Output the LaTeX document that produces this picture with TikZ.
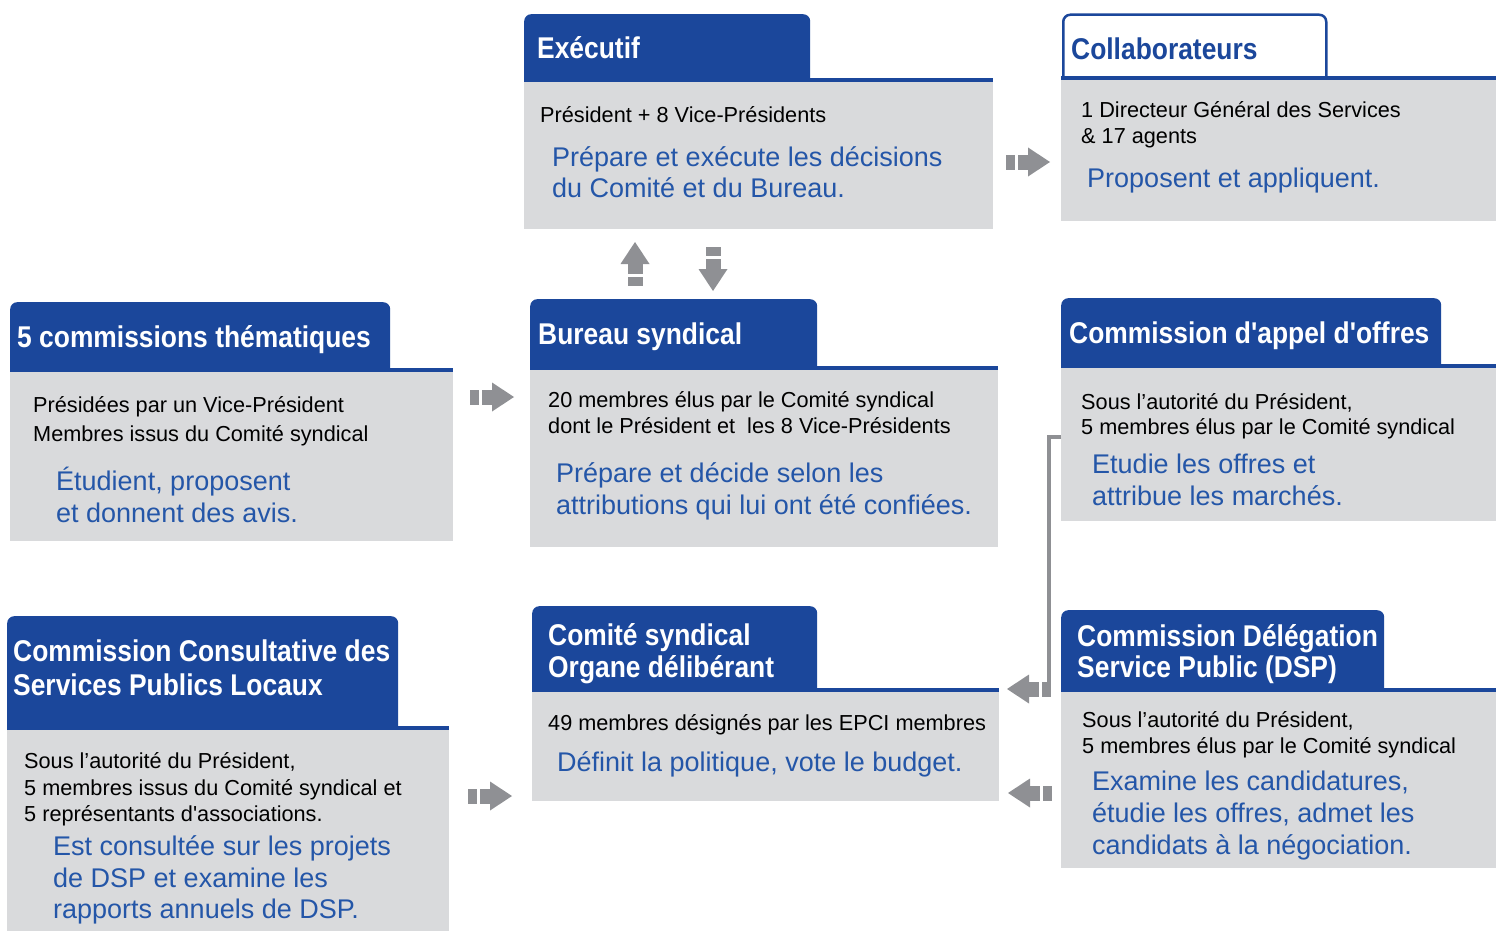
\documentclass[tikz,border=0pt]{standalone}
\usepackage{fontspec}
\setmainfont{Liberation Sans}[Ligatures=TeXOff]
\newfontfamily\hdrfont[FakeStretch=0.88,Ligatures=TeXOff]{Liberation Sans}
\definecolor{hdrblue}{HTML}{1B479B}
\definecolor{txtblue}{HTML}{2456A8}
\definecolor{bodygrey}{HTML}{D9DADC}
\definecolor{arrgrey}{HTML}{8F9094}
\tikzset{
  tabbox/.style={fill=hdrblue, draw=none, rounded corners=7pt, anchor=north west, inner sep=0pt},
  tabopen/.style={fill=white, draw=hdrblue, line width=2.5pt, rounded corners=7pt, anchor=north west, inner sep=0pt},
  bodybox/.style={fill=bodygrey, draw=none, anchor=north west, inner sep=0pt},
  hdr/.style={anchor=base west, inner sep=0pt, text=white, font=\hdrfont\bfseries\fontsize{30}{34}\selectfont},
  hdrb/.style={hdr, text=hdrblue},
  btxt/.style={anchor=base west, inner sep=0pt, text=black, font=\fontsize{21.7}{25}\selectfont},
  ltxt/.style={anchor=base west, inner sep=0pt, text=txtblue, font=\fontsize{27}{32}\selectfont},
  connline/.style={draw=arrgrey, line width=4pt},
  garrow/.pic={
    \fill[arrgrey] (0,-7.5) rectangle (9,7.5);
    \fill[arrgrey] (12,-7.5) rectangle (23,7.5);
    \fill[arrgrey] (22,-14.5) -- (44,0) -- (22,14.5) -- cycle;
  }
}
\begin{document}
\begin{tikzpicture}[x=1pt,y=-1pt]
\useasboundingbox (0,0) rectangle (1496,931);

% ---------- Executif ----------
\node[tabbox, minimum width=286pt, minimum height=80pt] (exectab) at (524,14) {};
\fill[hdrblue] (524,78) rectangle (993,82);
\node[bodybox, minimum width=469pt, minimum height=147pt] (exec) at (524,82) {};
\node[hdr] (exech) at (537,59) {Exécutif};
\node[btxt] (exect1) at (540,123) {Président + 8 Vice-Présidents};
\node[ltxt] (exect2) at (552,166) {Prépare et exécute les décisions};
\node[ltxt] (exect3) at (552,197) {du Comité et du Bureau.};

% ---------- Collaborateurs ----------
\node[tabopen, minimum width=263pt, minimum height=80pt] (coltab) at (1062,13.5) {};
\fill[hdrblue] (1061,76) rectangle (1496,80);
\node[bodybox, minimum width=435pt, minimum height=141pt] (col) at (1061,80) {};
\node[hdrb] (colh) at (1071,60) {Collaborateurs};
\node[btxt] (colt1) at (1081,118) {1 Directeur Général des Services};
\node[btxt] (colt2) at (1081,143) {\& 17 agents};
\node[ltxt] (colt3) at (1087,187) {Proposent et appliquent.};

% ---------- 5 commissions ----------
\node[tabbox, minimum width=380pt, minimum height=80pt] (comtab) at (10,302) {};
\fill[hdrblue] (10,368) rectangle (453,372);
\node[bodybox, minimum width=443pt, minimum height=169pt] (com) at (10,372) {};
\node[hdr] (comh) at (17,347) {5 commissions thématiques};
\node[btxt] (comt1) at (33,412) {Présidées par un Vice-Président};
\node[btxt] (comt2) at (33,441) {Membres issus du Comité syndical};
\node[ltxt] (comt3) at (56,490) {Étudient, proposent};
\node[ltxt] (comt4) at (56,522) {et donnent des avis.};

% ---------- Bureau syndical ----------
\node[tabbox, minimum width=287pt, minimum height=80pt] (burtab) at (530,299) {};
\fill[hdrblue] (530,366) rectangle (998,370);
\node[bodybox, minimum width=468pt, minimum height=177pt] (bur) at (530,370) {};
\node[hdr] (burh) at (538,344) {Bureau syndical};
\node[btxt] (burt1) at (548,407) {20 membres élus par le Comité syndical};
\node[btxt] (burt2) at (548,433) {dont le Président et\ \ les 8 Vice-Présidents};
\node[ltxt] (burt3) at (556,482) {Prépare et décide selon les};
\node[ltxt] (burt4) at (556,514) {attributions qui lui ont été confiées.};

% ---------- Commission d'appel d'offres ----------
\node[tabbox, minimum width=380pt, minimum height=80pt] (aotab) at (1061,298) {};
\fill[hdrblue] (1061,364) rectangle (1496,368);
\node[bodybox, minimum width=435pt, minimum height=153pt] (ao) at (1061,368) {};
\node[hdr] (aoh) at (1069,343) {Commission d'appel d'offres};
\node[btxt] (aot1) at (1081,409) {Sous l’autorité du Président,};
\node[btxt] (aot2) at (1081,434) {5 membres élus par le Comité syndical};
\node[ltxt] (aot3) at (1092,473) {Etudie les offres et};
\node[ltxt] (aot4) at (1092,505) {attribue les marchés.};

% ---------- CCSPL ----------
\node[tabbox, minimum width=391pt, minimum height=120pt] (ccstab) at (7,616) {};
\fill[hdrblue] (7,726) rectangle (449,730);
\node[bodybox, minimum width=442pt, minimum height=201pt] (ccs) at (7,730) {};
\node[hdr] (ccsh1) at (13,661) {Commission Consultative des};
\node[hdr] (ccsh2) at (13,695) {Services Publics Locaux};
\node[btxt] (ccst1) at (24,768) {Sous l’autorité du Président,};
\node[btxt] (ccst2) at (24,795) {5 membres issus du Comité syndical et};
\node[btxt] (ccst3) at (24,821) {5 représentants d'associations.};
\node[ltxt] (ccst4) at (53,855) {Est consultée sur les projets};
\node[ltxt] (ccst5) at (53,887) {de DSP et examine les};
\node[ltxt] (ccst6) at (53,918) {rapports annuels de DSP.};

% ---------- Comite syndical ----------
\node[tabbox, minimum width=285pt, minimum height=95pt] (cstab) at (532,606) {};
\fill[hdrblue] (532,688) rectangle (999,692);
\node[bodybox, minimum width=467pt, minimum height=109pt] (cs) at (532,692) {};
\node[hdr] (csh1) at (548,645) {Comité syndical};
\node[hdr] (csh2) at (548,677) {Organe délibérant};
\node[btxt] (cst1) at (548,730) {49 membres désignés par les EPCI membres};
\node[ltxt] (cst2) at (557,771) {Définit la politique, vote le budget.};

% ---------- Commission DSP ----------
\node[tabbox, minimum width=323pt, minimum height=90pt] (dsptab) at (1061,610) {};
\fill[hdrblue] (1061,688) rectangle (1496,692);
\node[bodybox, minimum width=435pt, minimum height=176pt] (dsp) at (1061,692) {};
\node[hdr] (dsph1) at (1077,646) {Commission Délégation};
\node[hdr] (dsph2) at (1077,677) {Service Public (DSP)};
\node[btxt] (dspt1) at (1082,727) {Sous l’autorité du Président,};
\node[btxt] (dspt2) at (1082,753) {5 membres élus par le Comité syndical};
\node[ltxt] (dspt3) at (1092,790) {Examine les candidatures,};
\node[ltxt] (dspt4) at (1092,822) {étudie les offres, admet les};
\node[ltxt] (dspt5) at (1092,854) {candidats à la négociation.};

% ---------- Arrows ----------
\pic at (1006,162) {garrow};
\pic[rotate=90] at (635,286) {garrow};
\pic[rotate=-90] at (713,247) {garrow};
\pic at (470,397) {garrow};
\pic at (468,796) {garrow};
\pic[rotate=180] at (1052,793) {garrow};
\coordinate (aoin) at (ao.west |- 0,437);
\coordinate (aobend) at (1049,691);
\draw[connline] (aoin) -| (aobend);
\pic[rotate=180] at (1051,689) {garrow};
\end{tikzpicture}
\end{document}
